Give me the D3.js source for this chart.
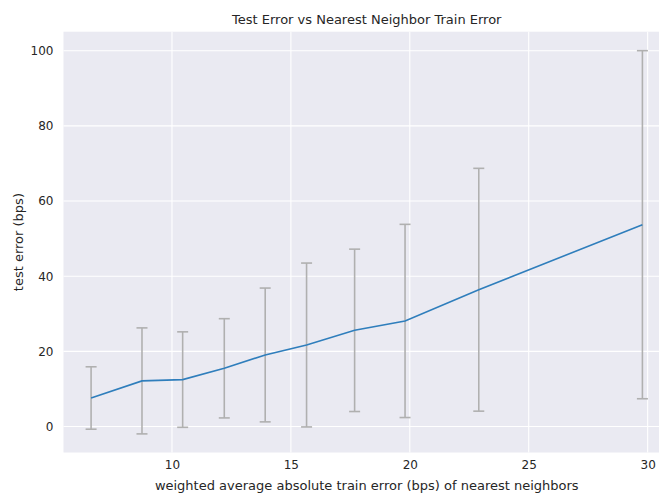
<!DOCTYPE html>
<html>
<head>
<meta charset="utf-8">
<script src="https://cdn.jsdelivr.net/npm/d3@7"></script>
<style>
  body { margin: 0; background: #fff; }
  svg { display: block; font-family: "DejaVu Sans", sans-serif; }
</style>
</head>
<body>
<script>
// neighbour train error (x), mean test error and its spread
var trainErr = [6.6, 8.74, 10.45, 12.2, 13.92, 15.66, 17.68, 19.8, 22.9, 29.78],
    testErr = [7.6, 12.15, 12.5, 15.5, 19.05, 21.7, 25.6, 28.1, 36.4, 53.7],
    errSpread = [8.3, 14.1, 12.7, 13.2, 17.8, 21.8, 21.6, 25.7, 32.3, 46.3],
    xTicks = [10, 15, 20, 25, 30],
    yTicks = [0, 20, 40, 60, 80, 100];

var width = 659,
    height = 493,
    margin = { left: 63.5, top: 31.7, bottom: 40.5 },
    plotRight = 670;

var x = d3.scaleLinear().domain([5.44, 30.94]).range([margin.left, plotRight]),
    y = d3.scaleLinear().domain([-6.9, 105.05]).range([height - margin.bottom, margin.top]);

var svg = d3.select("body").append("svg")
    .attr("width", width)
    .attr("height", height);

svg.append("rect")
    .attr("x", margin.left)
    .attr("y", margin.top)
    .attr("width", plotRight - margin.left)
    .attr("height", height - margin.bottom - margin.top)
    .attr("fill", "#eaeaf2");

// grid
svg.append("g").selectAll("line").data(xTicks).enter().append("line")
    .attr("x1", function(d) { return x(d); })
    .attr("x2", function(d) { return x(d); })
    .attr("y1", margin.top)
    .attr("y2", height - margin.bottom)
    .attr("stroke", "#fff").attr("stroke-width", 1.1);
svg.append("g").selectAll("line").data(yTicks).enter().append("line")
    .attr("x1", margin.left)
    .attr("x2", plotRight)
    .attr("y1", function(d) { return y(d); })
    .attr("y2", function(d) { return y(d); })
    .attr("stroke", "#fff").attr("stroke-width", 1.1);

// axes (labels only, seaborn hides the spines)
var xAxis = svg.append("g")
    .attr("transform", "translate(0," + (height - margin.bottom) + ")")
    .call(d3.axisBottom(x).tickValues(xTicks).tickSize(0).tickPadding(8));
var yAxis = svg.append("g")
    .attr("transform", "translate(" + margin.left + ",0)")
    .call(d3.axisLeft(y).tickValues(yTicks).tickSize(0).tickPadding(10));
[xAxis, yAxis].forEach(function(a) {
    a.select(".domain").remove();
    a.selectAll("text").attr("font-size", 12).attr("fill", "#262626")
        .attr("font-family", "DejaVu Sans");
});

// error bars
var bars = svg.append("g").attr("stroke", "#b0b0b0").attr("stroke-width", 1.6);
trainErr.forEach(function(t, i) {
    var lo = y(testErr[i] - errSpread[i]),
        hi = y(testErr[i] + errSpread[i]),
        cx = x(t);
    bars.append("line").attr("x1", cx).attr("x2", cx).attr("y1", lo).attr("y2", hi);
    bars.append("line").attr("x1", cx - 5.5).attr("x2", cx + 5.5).attr("y1", lo).attr("y2", lo);
    bars.append("line").attr("x1", cx - 5.5).attr("x2", cx + 5.5).attr("y1", hi).attr("y2", hi);
});

svg.append("path")
    .datum(trainErr)
    .attr("fill", "none")
    .attr("stroke", "#2f7ebc")
    .attr("stroke-width", 1.6)
    .attr("d", d3.line()
        .x(function(d) { return x(d); })
        .y(function(d, i) { return y(testErr[i]); }));

svg.append("text")
    .attr("x", (margin.left + plotRight) / 2)
    .attr("y", 24)
    .attr("text-anchor", "middle")
    .attr("font-size", 13)
    .attr("fill", "#262626")
    .text("Test Error vs Nearest Neighbor Train Error");

svg.append("text")
    .attr("x", (margin.left + plotRight) / 2)
    .attr("y", 490)
    .attr("text-anchor", "middle")
    .attr("font-size", 13)
    .attr("fill", "#262626")
    .text("weighted average absolute train error (bps) of nearest neighbors");

svg.append("text")
    .attr("transform", "translate(23," + ((margin.top + height - margin.bottom) / 2) + ") rotate(-90)")
    .attr("text-anchor", "middle")
    .attr("font-size", 13)
    .attr("fill", "#262626")
    .text("test error (bps)");
</script>
</body>
</html>
